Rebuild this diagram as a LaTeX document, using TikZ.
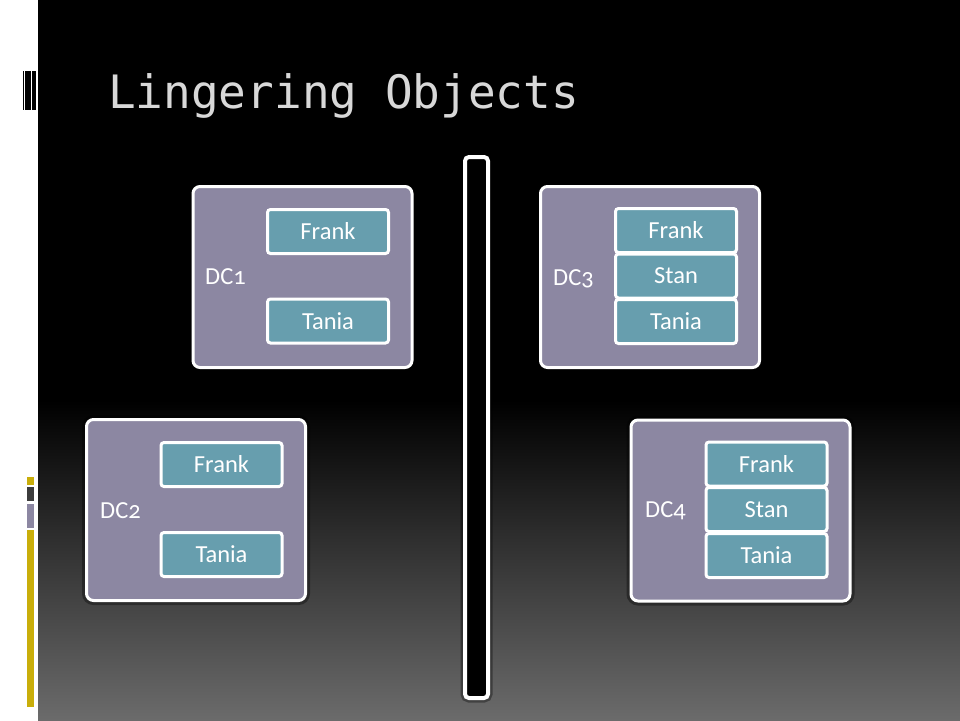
\documentclass[tikz,border=0pt]{standalone}
\usepackage{fontspec}
\setmainfont{Carlito}[Numbers=OldStyle]
\newfontfamily\titlefont{DejaVu Sans Mono}
\definecolor{dcpurple}{HTML}{8C87A2}
\definecolor{entryteal}{HTML}{679EAE}
\definecolor{titlegrey}{HTML}{D8D8D8}
\definecolor{stripyellow}{HTML}{C9AE0A}
\definecolor{stripdark}{HTML}{3C3C3C}
\definecolor{stripgrey}{HTML}{8C87A2}
\tikzset{
  halo/.style     = {preaction={draw=black, line width=9pt, draw opacity=0.35}},
  dcbox/.style    = {halo, draw=white, line width=3pt, fill=dcpurple, rounded corners=7pt,
                     minimum width=219pt, minimum height=181pt},
  entry/.style    = {draw=white, line width=3pt, fill=entryteal, rounded corners=3pt,
                     minimum width=121pt, minimum height=44pt, text=white,
                     font=\fontsize{24.5}{28}\selectfont},
  dclabel/.style  = {anchor=west, text=white, inner sep=0pt,
                     font=\fontsize{24.5}{28}\selectfont},
}
\begin{document}
\begin{tikzpicture}[x=1pt, y=-1pt]
  \useasboundingbox (0,0) rectangle (960,720);
  \fill[white] (0,0) rectangle (38,720);
  \fill[black] (38,0) rectangle (960,400);
  \shade[top color=black, bottom color=black!58] (38,400) rectangle (960,720);
  \fill[black] (22.7,71) rectangle (23.7,110);
  \fill[black] (25,71)   rectangle (26.7,110);
  \fill[black] (27.3,71) rectangle (30.7,110);
  \fill[black] (31.7,71) rectangle (36,110);
  \fill[stripyellow] (27,477) rectangle (34,485);
  \fill[stripdark]   (27,487) rectangle (34,501);
  \fill[stripgrey]   (27,504) rectangle (34,528);
  \fill[stripyellow] (27,530) rectangle (34,707);
  \node (title) [anchor=base west, text=titlegrey, inner sep=0pt,
    font=\titlefont\fontsize{46}{50}\selectfont] at (108,108) {Lingering Objects};
  \node (divider) [halo, draw=white, line width=4pt, fill=black, rounded corners=4pt,
    minimum width=23pt, minimum height=541pt] at (476.5,427.5) {};

  \node (dcone)   [dcbox] at (302.5,277) {};
  \node (dctwo)   [dcbox] at (196,510)   {};
  \node (dcthree) [dcbox] at (650,277)   {};
  \node (dcfour)  [dcbox] at (740.5,510.5) {};

  \node (dconename)   [dclabel] at (205,277) {DC1};
  \node (dctwoname)   [dclabel] at (100,511) {DC2};
  \node (dcthreename) [dclabel] at (553,279) {DC3};
  \node (dcfourname)  [dclabel] at (645,511) {DC4};

  \node (dconefrank) [entry] at (328,231.5) {Frank};
  \node (dconetania) [entry] at (328,321)   {Tania};
  \node (dctwofrank) [entry] at (221.5,464.5) {Frank};
  \node (dctwotania) [entry] at (221.5,554.5) {Tania};
  \node (dcthreefrank) [entry] at (676,230.5) {Frank};
  \node (dcthreestan)  [entry] at (676,276)   {Stan};
  \node (dcthreetania) [entry] at (676,321.5) {Tania};
  \node (dcfourfrank) [entry] at (766.5,464)   {Frank};
  \node (dcfourstan)  [entry] at (766.5,509.5) {Stan};
  \node (dcfourtania) [entry] at (766.5,555.5) {Tania};
\end{tikzpicture}
\end{document}
